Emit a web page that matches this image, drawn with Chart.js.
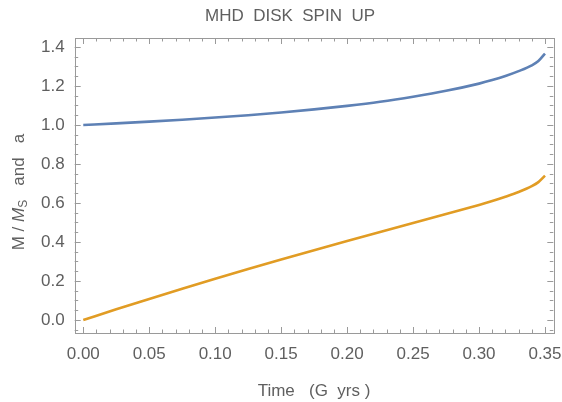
<!DOCTYPE html>
<html>
<head>
<meta charset="utf-8">
<script src="https://cdn.jsdelivr.net/npm/chart.js@4.4.1/dist/chart.umd.min.js"></script>
<style>
  html, body { margin: 0; padding: 0; background: #fff; }
  #wrap { width: 562px; height: 402px; }
</style>
</head>
<body>
<div id="wrap"><canvas id="spinup"></canvas></div>
<script>
// time in G yrs
var times = [0, 0.025, 0.05, 0.075, 0.1, 0.125, 0.15, 0.175, 0.2, 0.225, 0.25,
             0.275, 0.3, 0.31, 0.32, 0.33, 0.34, 0.345, 0.35];
// M / Ms
var massRatio = [1.000, 1.008, 1.017, 1.027, 1.038, 1.050, 1.064, 1.080, 1.098, 1.119, 1.145,
                 1.175, 1.212, 1.230, 1.251, 1.276, 1.306, 1.328, 1.366];
// spin a
var spin = [0.000, 0.055, 0.108, 0.160, 0.211, 0.261, 0.310, 0.358, 0.405, 0.451, 0.497,
            0.543, 0.590, 0.610, 0.632, 0.656, 0.686, 0.707, 0.740];

var xTicks = [0, 0.05, 0.1, 0.15, 0.2, 0.25, 0.3, 0.35];
var yTicks = [0, 0.2, 0.4, 0.6, 0.8, 1.0, 1.2, 1.4];

var gray = '#5f5f5f';
var font = 'Liberation Sans, Arial, sans-serif';

function pts(ys) {
    return times.map(function(t, i) { return {x: t, y: ys[i]}; });
}

// Mathematica-style frame with inward ticks on all four sides, plus title and y label
var framePlugin = {
    id: 'frame',
    afterDraw: function(chart) {
        var c = chart.ctx, a = chart.chartArea;
        var xs = chart.scales.x, ys = chart.scales.y;
        c.save();
        c.strokeStyle = '#9a9a9a';
        c.lineWidth = 1;
        c.strokeRect(Math.round(a.left) + 0.5, Math.round(a.top) + 0.5,
                     Math.round(a.right - a.left), Math.round(a.bottom - a.top));
        c.beginPath();
        for (var i = 0; i <= 35; i++) {
            var v = i / 100, len = (i % 5 === 0) ? 6 : 3.5;
            var px = Math.round(xs.getPixelForValue(v)) + 0.5;
            c.moveTo(px, a.bottom); c.lineTo(px, a.bottom - len);
            c.moveTo(px, a.top); c.lineTo(px, a.top + len);
        }
        for (var j = -1; j <= 28; j++) {
            var w = j / 20, l2 = (j % 4 === 0) ? 6 : 3.5;
            var py = Math.round(ys.getPixelForValue(w)) + 0.5;
            if (py < a.top || py > a.bottom) continue;
            c.moveTo(a.left, py); c.lineTo(a.left + l2, py);
            c.moveTo(a.right, py); c.lineTo(a.right - l2, py);
        }
        c.stroke();

        // title
        c.fillStyle = gray;
        c.font = '17px ' + font;
        c.textAlign = 'center';
        c.textBaseline = 'middle';
        c.fillText('MHD  DISK  SPIN  UP', 290, 16);

        // y axis label: M / M_S  and  a
        c.textAlign = 'left';
        c.translate(19, 192);
        c.rotate(-Math.PI / 2);
        var parts = [
            {t: 'M / ', f: '17px ' + font, dy: 0},
            {t: 'M', f: 'italic 17px ' + font, dy: 0},
            {t: 'S', f: '12px ' + font, dy: 5},
            {t: '   and   a', f: '17px ' + font, dy: 0}
        ];
        var total = 0;
        parts.forEach(function(p) { c.font = p.f; p.w = c.measureText(p.t).width; total += p.w; });
        var x0 = -total / 2;
        parts.forEach(function(p) {
            c.font = p.f;
            c.fillText(p.t, x0, p.dy);
            x0 += p.w;
        });
        c.restore();
    }
};

var ctx = document.getElementById('spinup').getContext('2d');
var myChart = new Chart(ctx, {
    type: 'line',
    data: {
        datasets: [{
            label: 'M/Ms',
            data: pts(massRatio),
            borderColor: '#5e81b5',
            borderWidth: 2.6,
            pointRadius: 0,
            cubicInterpolationMode: 'monotone'
        }, {
            label: 'a',
            data: pts(spin),
            borderColor: '#e19c24',
            borderWidth: 2.6,
            pointRadius: 0,
            cubicInterpolationMode: 'monotone'
        }]
    },
    options: {
        responsive: true,
        maintainAspectRatio: false,
        animation: false,
        layout: { padding: { left: 0, right: 8.7, top: 38, bottom: 0 } },
        scales: {
            x: {
                type: 'linear',
                min: -0.0065,
                max: 0.3563,
                grid: { display: false, drawTicks: false },
                border: { display: false },
                afterBuildTicks: function(s) { s.ticks = xTicks.map(function(v) { return {value: v}; }); },
                afterFit: function(s) { s.height = 69; s.paddingLeft = 0; s.paddingRight = 0; },
                ticks: {
                    color: gray,
                    padding: 11,
                    maxRotation: 0,
                    autoSkip: false,
                    font: { family: font, size: 17 },
                    callback: function(v) { return v.toFixed(2); }
                },
                title: {
                    display: true,
                    text: 'Time   (G  yrs )',
                    color: gray,
                    font: { family: font, size: 17 },
                    padding: { top: 10, bottom: 0 }
                }
            },
            y: {
                min: -0.0667,
                max: 1.446,
                grid: { display: false, drawTicks: false },
                border: { display: false },
                afterBuildTicks: function(s) { s.ticks = yTicks.map(function(v) { return {value: v}; }); },
                afterFit: function(s) { s.width = 74.7; s.paddingTop = 0; s.paddingBottom = 0; },
                ticks: {
                    color: gray,
                    padding: 10,
                    autoSkip: false,
                    font: { family: font, size: 17 },
                    callback: function(v) { return v.toFixed(1); }
                }
            }
        },
        plugins: {
            legend: { display: false },
            tooltip: { enabled: false }
        }
    },
    plugins: [framePlugin]
});
</script>
</body>
</html>
